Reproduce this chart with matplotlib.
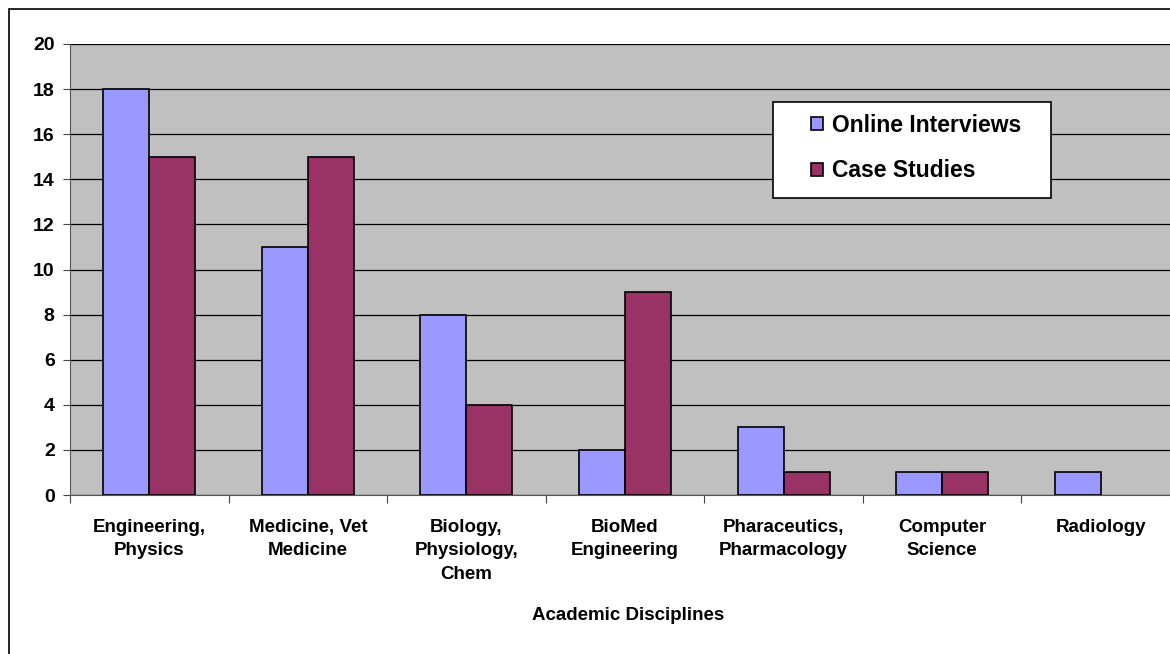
import numpy as np
import matplotlib
matplotlib.use('Agg')
import matplotlib.pyplot as plt
from matplotlib.patches import Rectangle

# data
categories = ['Engineering,\nPhysics', 'Medicine, Vet\nMedicine', 'Biology,\nPhysiology,\nChem',
              'BioMed\nEngineering', 'Pharaceutics,\nPharmacology', 'Computer\nScience', 'Radiology']
online_interviews = [18, 11, 8, 2, 3, 1, 1]
case_studies = [15, 15, 4, 9, 1, 1, 0]
yticks = [0, 2, 4, 6, 8, 10, 12, 14, 16, 18, 20]

plt.rcParams['font.family'] = ['Liberation Sans', 'DejaVu Sans']
plt.rcParams['font.weight'] = 'bold'

W, H = 1170, 654
fig = plt.figure(figsize=(W/100, H/100), dpi=100)
ax = fig.add_axes([70/W, 1 - 495/H, 1110/W, 451/H])

# outer chart border
fig.patches.append(Rectangle((9/W, -0.1), 1.2, 1 - 9/H + 0.1, transform=fig.transFigure,
                             fill=False, edgecolor='black', linewidth=1.2, zorder=0))

x = np.arange(len(categories))
w = 0.29
ax.set_facecolor('#C0C0C0')
b1 = ax.bar(x - w/2, online_interviews, w, color='#9999FF', edgecolor='black', linewidth=1.2,
            label='Online Interviews', zorder=3)
b2 = ax.bar(x + w/2, case_studies, w, color='#993366', edgecolor='black', linewidth=1.2,
            label='Case Studies', zorder=3)
for p in list(b1) + list(b2):
    if p.get_height() == 0:
        p.set_visible(False)

ax.set_xlim(-0.5, len(categories) - 0.5)
ax.set_ylim(0, 20)
ax.set_yticks(yticks)
ax.set_yticklabels([str(v) for v in yticks], fontsize=14, fontweight='bold')
ax.yaxis.grid(True, color='black', linewidth=0.9, zorder=1)
ax.set_axisbelow(True)

ax.set_xticks(np.arange(-0.5, len(categories) - 0.4, 1.0))
ax.set_xticklabels([])
ax.set_xticks(x, minor=True)
ax.set_xticklabels(categories, minor=True, fontsize=13.5, fontweight='bold', linespacing=1.5)
ax.tick_params(axis='x', which='minor', length=0, pad=17)
ax.tick_params(axis='x', which='major', length=6, color='#444444')
ax.tick_params(axis='y', length=5, color='#444444', pad=6)

for s in ['top', 'right']:
    ax.spines[s].set_visible(False)
ax.spines['left'].set_color('#555555')
ax.spines['bottom'].set_color('#555555')

ax.set_xlabel('Academic Disciplines', fontsize=13.5, fontweight='bold', va='center')
ax.xaxis.set_label_coords((628 - 70) / 1110, (495 - 615) / 451)

# legend box
box = Rectangle((773/W, 1 - 198/H), 278/W, 96/H, transform=fig.transFigure, facecolor='white',
                edgecolor='black', linewidth=1.2, zorder=4, clip_on=False)
ax.add_patch(box)
leg = ax.legend(loc='center left', bbox_to_anchor=(811/W, 1 - 148/H), bbox_transform=fig.transFigure,
                frameon=False, fontsize=16.5, handlelength=0.53, handleheight=0.53,
                handletextpad=0.4, labelspacing=1.0, borderpad=0, borderaxespad=0)
for t in leg.get_texts():
    t.set_fontweight('bold')
leg.set_zorder(5)

fig.savefig('out.png', dpi=100)
